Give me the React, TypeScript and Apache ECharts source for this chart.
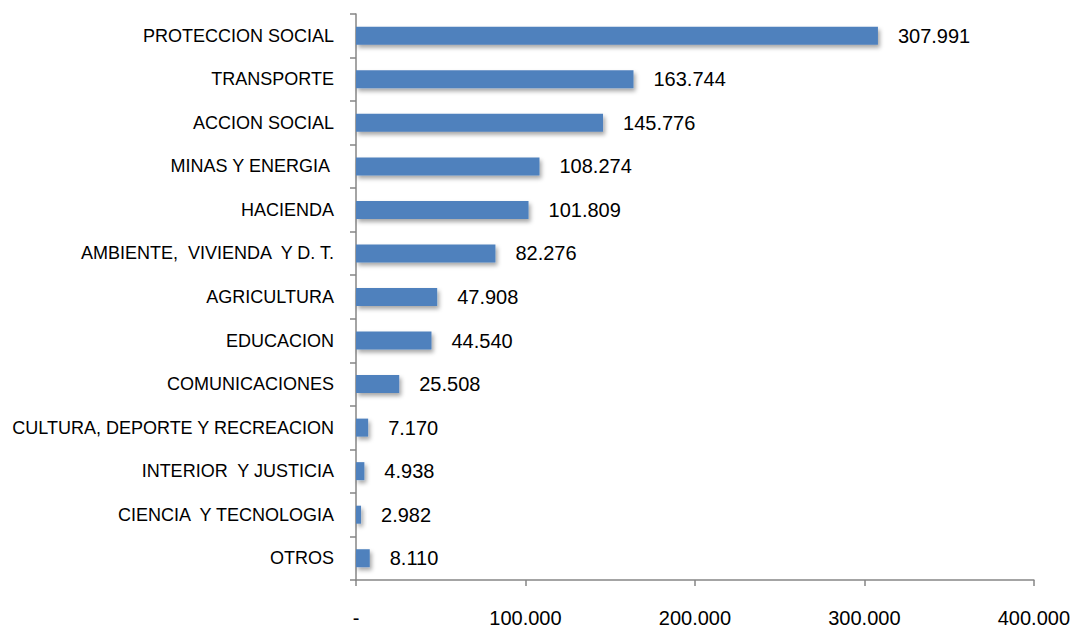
import React, { useEffect, useRef } from "react";
import * as echarts from "echarts";

const categories = [
  "PROTECCION SOCIAL",
  "TRANSPORTE",
  "ACCION SOCIAL",
  "MINAS Y ENERGIA ",
  "HACIENDA",
  "AMBIENTE,  VIVIENDA  Y D. T.",
  "AGRICULTURA",
  "EDUCACION",
  "COMUNICACIONES",
  "CULTURA, DEPORTE Y RECREACION",
  "INTERIOR  Y JUSTICIA",
  "CIENCIA  Y TECNOLOGIA",
  "OTROS",
];
const values = [307991, 163744, 145776, 108274, 101809, 82276, 47908, 44540, 25508, 7170, 4938, 2982, 8110];
const xTicks = [0, 100000, 200000, 300000, 400000];

const fmt = (v: number) => {
  if (v === 0) return "-";
  return Math.round(v).toString().replace(/\B(?=(\d{3})+(?!\d))/g, ".");
};

export default function App() {
  const ref = useRef<HTMLDivElement>(null);
  useEffect(() => {
    if (!ref.current) return;
    const chart = echarts.init(ref.current, undefined, { renderer: "svg" });
    const font = "Liberation Sans";
    chart.setOption({
      animation: false,
      backgroundColor: "#ffffff",
      grid: { left: 356, right: 35, top: 14, bottom: 47, containLabel: false },
      xAxis: {
        type: "value",
        min: xTicks[0],
        max: xTicks[xTicks.length - 1],
        interval: 100000,
        splitLine: { show: false },
        axisLine: { show: true, lineStyle: { color: "#868686", width: 1.5 } },
        axisTick: { show: true, length: 6, lineStyle: { color: "#868686", width: 1.5 } },
        axisLabel: {
          formatter: (v: number) => fmt(v),
          color: "#000",
          fontFamily: font,
          fontSize: 20,
          margin: 28,
        },
      },
      yAxis: {
        type: "category",
        data: categories,
        inverse: true,
        axisLine: { show: true, lineStyle: { color: "#868686", width: 1.5 } },
        axisTick: { show: true, length: 6, lineStyle: { color: "#868686", width: 1.5 } },
        axisLabel: {
          color: "#000",
          fontFamily: font,
          fontSize: 18,
          margin: 22,
          padding: [4, 0, 0, 0],
        },
      },
      series: [
        {
          type: "bar",
          data: values,
          barWidth: 18,
          itemStyle: {
            color: "#4F81BD",
            shadowColor: "rgba(0,0,0,0.35)",
            shadowBlur: 4,
            shadowOffsetX: 2,
            shadowOffsetY: 3,
          },
          label: {
            show: true,
            position: "right",
            distance: 20,
            formatter: (p: any) => fmt(p.value),
            color: "#000",
            fontFamily: font,
            fontSize: 20,
            padding: [4, 0, 0, 0],
          },
        },
      ],
    });
    return () => chart.dispose();
  }, []);
  return (
    <div
      ref={ref}
      style={{ position: "fixed", left: 0, top: 0, width: 1073, height: 628 }}
    />
  );
}
